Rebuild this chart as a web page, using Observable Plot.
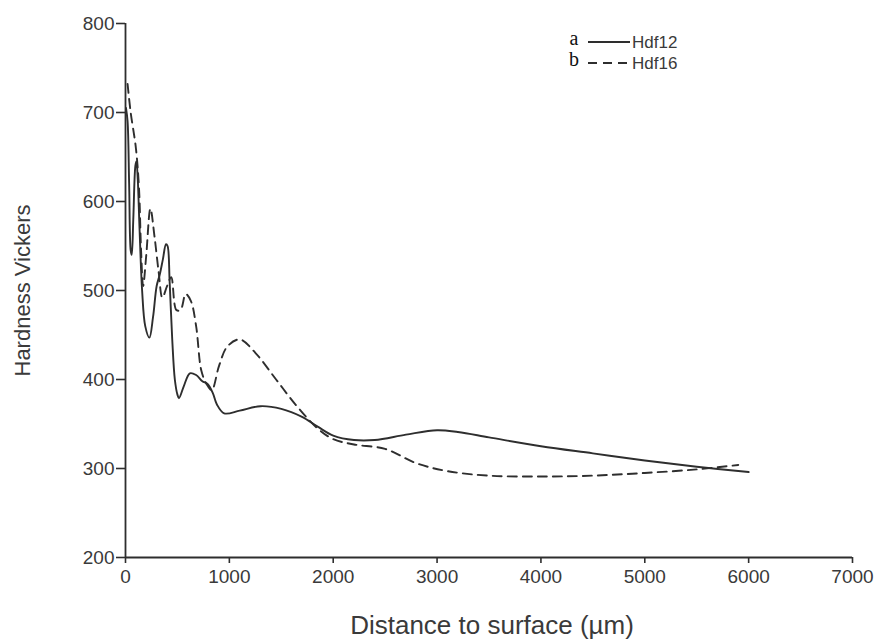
<!DOCTYPE html>
<html>
<head>
<meta charset="utf-8">
<script src="https://cdn.jsdelivr.net/npm/d3@7"></script>
<script src="https://cdn.jsdelivr.net/npm/@observablehq/plot@0.6"></script>
<style>
  html, body { margin: 0; padding: 0; background: #fff; }
  #wrap { position: relative; width: 879px; height: 643px; overflow: hidden; font-family: "Liberation Sans", Arial, sans-serif; }
  #legend { position: absolute; left: 560px; top: 24px; }
</style>
</head>
<body>
<div id="wrap">
  <div id="chart"></div>
  <svg id="legend" width="140" height="54"></svg>
</div>
<script>
// Tick values
const xTicks = [0, 1000, 2000, 3000, 4000, 5000, 6000, 7000];
const yTicks = [200, 300, 400, 500, 600, 700, 800];

// Series names
const seriesNames = ["Hdf12", "Hdf16"];
const seriesLetters = ["a", "b"];

// Hdf12 (solid) — distance (µm) and hardness (HV)
const hdf12X = [5, 20, 35, 50, 60, 75, 95, 105, 118, 135, 160, 190, 230, 265, 300, 330, 360, 390, 405, 425, 450, 475, 500, 515, 560, 620, 680, 740, 790, 840, 880, 950, 1100, 1300, 1500, 1700, 1850, 2000, 2200, 2400, 2700, 3000, 3200, 3500, 4000, 4500, 5000, 5500, 6000];
const hdf12Y = [705, 690, 620, 545, 540, 580, 640, 645, 625, 570, 500, 460, 447, 470, 505, 518, 535, 552, 550, 510, 445, 400, 383, 379, 392, 407, 405, 398, 395, 385, 372, 362, 365, 370, 367, 358, 347, 337, 332, 332, 338, 343, 341, 335, 325, 317, 309, 302, 296];

// Hdf16 (dashed)
const hdf16X = [20, 50, 100, 130, 150, 170, 200, 240, 280, 320, 355, 400, 440, 490, 530, 580, 630, 680, 730, 780, 830, 900, 980, 1100, 1250, 1450, 1650, 1850, 2000, 2200, 2500, 2800, 3100, 3500, 4000, 4500, 5000, 5500, 5900];
const hdf16Y = [732, 700, 660, 615, 545, 505, 540, 592, 560, 520, 492, 505, 515, 478, 478, 496, 488, 460, 410, 395, 388, 415, 437, 445, 430, 400, 370, 345, 333, 327, 322, 306, 297, 292, 291, 292, 295, 299, 304];

const xLabel = "Distance to surface (µm)";
const yLabel = "Hardness Vickers";

const toRows = (xs, ys) => xs.map((x, i) => ({x, y: ys[i]}));
const rows12 = toRows(hdf12X, hdf12Y);
const rows16 = toRows(hdf16X, hdf16Y);

const ink = "#2e2e2e";
const tickInk = "#3a3a3a";

const chart = Plot.plot({
  width: 879,
  height: 643,
  marginLeft: 125,
  marginRight: 27,
  marginTop: 23,
  marginBottom: 86,
  style: { fontFamily: "'Liberation Sans', Arial, sans-serif", color: ink, background: "#fff" },
  x: { domain: [0, 7000] },
  y: { domain: [200, 800] },
  marks: [
    Plot.axisX({ ticks: xTicks, tickFormat: d => String(d), tickSize: 6, tickPadding: 6, fontSize: 19, label: null, stroke: ink, strokeWidth: 1.6, fill: tickInk }),
    Plot.axisY({ ticks: yTicks, tickFormat: d => String(d), tickSize: 9, tickPadding: 2, fontSize: 19, label: null, stroke: ink, strokeWidth: 1.6, fill: tickInk }),
    Plot.ruleX([0], { y1: 200, y2: 800, stroke: ink, strokeWidth: 1.8 }),
    Plot.ruleY([200], { x1: 0, x2: 7000, stroke: ink, strokeWidth: 1.8 }),
    Plot.line(rows12, { x: "x", y: "y", curve: "catmull-rom", stroke: ink, strokeWidth: 1.9 }),
    Plot.line(rows16, { x: "x", y: "y", curve: "catmull-rom", stroke: ink, strokeWidth: 1.9, strokeDasharray: "9,6" }),
    Plot.text([xLabel], { frameAnchor: "bottom", dx: 3, dy: 76, fontSize: 26, fill: tickInk }),
    Plot.text([yLabel], { frameAnchor: "left", textAnchor: "middle", dx: -103, rotate: -90, fontSize: 22, fill: tickInk })
  ]
});
document.getElementById("chart").appendChild(chart);

// Legend
const lg = d3.select("#legend");
seriesNames.forEach((name, i) => {
  const cy = 18 + i * 21;
  lg.append("text").attr("x", 14).attr("y", cy + 3).attr("font-family", "'Liberation Serif', 'Times New Roman', serif").attr("font-size", 20).attr("fill", "#111").attr("text-anchor", "middle").text(seriesLetters[i]);
  lg.append("line").attr("x1", 28).attr("x2", 70).attr("y1", cy).attr("y2", cy).attr("stroke", ink).attr("stroke-width", 1.9).attr("stroke-dasharray", i === 1 ? "9,6" : null);
  lg.append("text").attr("x", 72).attr("y", cy + 6).attr("font-family", "'Liberation Sans', Arial, sans-serif").attr("font-size", 17).attr("fill", tickInk).text(name);
});
</script>
</body>
</html>
